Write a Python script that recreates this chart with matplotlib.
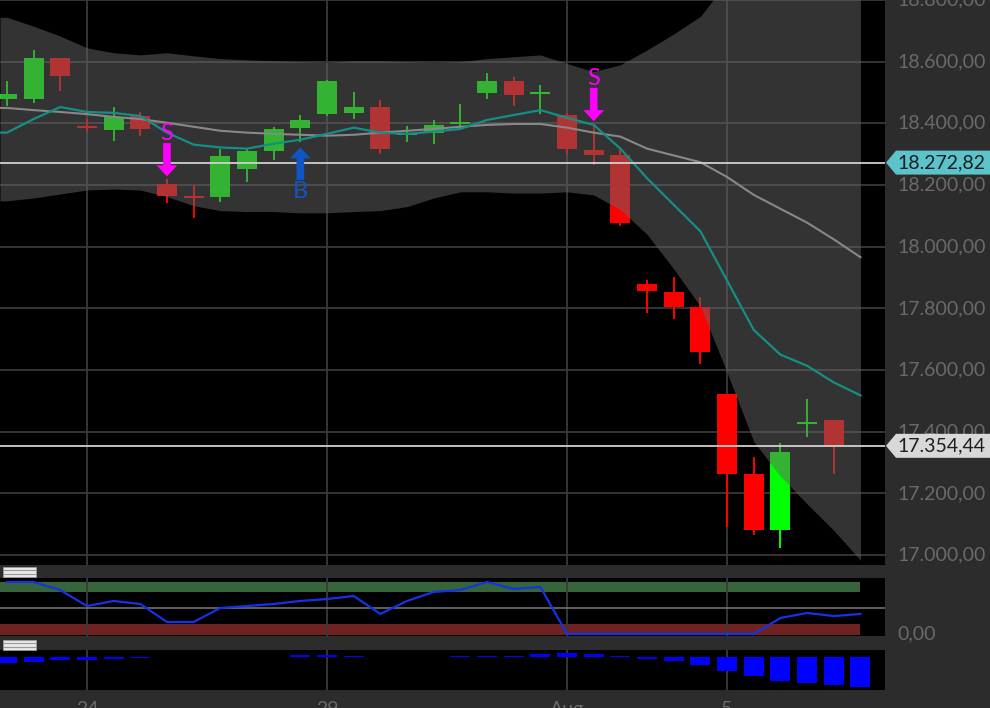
import matplotlib.pyplot as plt
import matplotlib.transforms as mtrans
from matplotlib.patches import Polygon, Rectangle
import numpy as np

plt.rcParams['font.family'] = ['Lato', 'DejaVu Sans']

# candles (8h bars), index 0..32
opens  = [18478, 18478, 18613, 18390, 18379, 18424, 18203, 18165, 18162, 18251, 18309,
          18386, 18430, 18434, 18453, 18363, 18370, 18398, 18498, 18536, 18494, 18427,
          18315, 18296, 17880, 17854, 17803, 17522, 17262, 17080, 17426, 17438, 17358]
highs  = [18536, 18638, 18613, 18414, 18453, 18437, 18219, 18200, 18318, 18318, 18389,
          18427, 18542, 18501, 18475, 18392, 18411, 18462, 18562, 18549, 18526, 18434,
          18398, 18318, 17893, 17902, 17838, 17522, 17317, 17365, 17506, 17438, 17358]
lows   = [18456, 18466, 18504, 18373, 18344, 18360, 18142, 18094, 18146, 18210, 18280,
          18338, 18424, 18414, 18302, 18341, 18334, 18379, 18478, 18456, 18430, 18296,
          18264, 18066, 17784, 17765, 17621, 17090, 17064, 17022, 17384, 17262, 17352]
closes = [18494, 18613, 18552, 18385, 18421, 18382, 18165, 18158, 18293, 18309, 18382,
          18411, 18536, 18453, 18318, 18370, 18395, 18405, 18536, 18491, 18501, 18318,
          18296, 18078, 17858, 17806, 17659, 17262, 17083, 17336, 17432, 17355, 17354.44]

# bollinger band + moving averages
bb_upper = [18744, 18715, 18683, 18645, 18629, 18622, 18629, 18619, 18610, 18606, 18603,
            18600, 18597, 18603, 18603, 18600, 18597, 18600, 18610, 18616, 18622, 18594,
            18568, 18590, 18638, 18690, 18747, 18859, 18968, 18990, 18990, 18968, 18949]
bb_lower = [18149, 18158, 18171, 18184, 18187, 18184, 18162, 18133, 18117, 18114, 18114,
            18110, 18110, 18114, 18117, 18130, 18158, 18178, 18178, 18174, 18174, 18178,
            18168, 18120, 18040, 17928, 17806, 17592, 17368, 17256, 17166, 17080, 16984]
bb_mid   = [18450, 18443, 18437, 18430, 18421, 18414, 18402, 18389, 18376, 18370, 18366,
            18363, 18360, 18363, 18370, 18376, 18382, 18389, 18395, 18398, 18398, 18386,
            18370, 18357, 18318, 18296, 18274, 18226, 18168, 18123, 18078, 18024, 17966]
sma_fast = [18370, 18414, 18453, 18437, 18434, 18424, 18370, 18331, 18322, 18318, 18334,
            18347, 18366, 18386, 18370, 18366, 18373, 18382, 18411, 18427, 18443, 18418,
            18395, 18318, 18222, 18136, 18050, 17890, 17730, 17650, 17614, 17560, 17518]

# oscillator panel (0..100) and histogram panel
stoch = [100, 100, 84.6, 53.8, 63.5, 57.7, 23.1, 23.1, 50, 53.8, 57.7, 63.5, 67.3, 73.1,
         38.5, 63.5, 80.8, 84.6, 100, 86.5, 90.4, 0, 0, 0, 0, 0, 0, 0, 0, 30.8, 40.4,
         34.6, 38.5]
hist = [-24, -20, -12, -10, -6, -2.4, -1.2, -0.8, 0.4, 0.8, 1.2, 8, 8, 5, 2, 1.2, 1.6,
        2.4, 6, 5, 11, 15, 12, 5, -7, -15, -32, -56, -76, -96, -104, -112, -120]

signals = [(6, 'S'), (11, 'B'), (22, 'S')]
date_pos = [3, 12, 21, 27]
date_labels = ['24', '29', 'Aug', '5']
price_ticks = list(range(17000, 18801, 200))
tag_prices = [18272.82, 17354.44]
tag_colors = ['#5cc3ca', '#d8d8d8']

W, H = 990, 708
BG = '#2c2c2c'
LBL = '#6a6a6a'
GRID = '#393939'


def de(v):
    return f"{v:,.2f}".replace(',', 'X').replace('.', ',').replace('X', '.')


fig = plt.figure(figsize=(W / 100, H / 100), dpi=100, facecolor=BG)
ax = fig.add_axes([0, 1 - 565 / H, 885 / W, 565 / H])
ax1 = fig.add_axes([0, 1 - 636 / H, 885 / W, 58 / H])
ax2 = fig.add_axes([0, 1 - 690 / H, 885 / W, 40 / H])

x = np.arange(len(opens))
xlim = (-0.26, 32.92)
# lines/band continue to the left edge
xe = np.r_[xlim[0], x]


def ext(v):
    return np.r_[v[0], v]


for a in (ax, ax1, ax2):
    a.set_facecolor('black')
    a.set_xlim(*xlim)
    for s in a.spines.values():
        s.set_visible(False)
    a.set_xticks(date_pos)
    a.tick_params(length=0, labelleft=False, labelbottom=False)
    a.grid(True, axis='x', color=GRID, lw=1.3, alpha=1)
    a.set_axisbelow(True)

# main panel
ax.set_ylim(16968, 18776)
ax.set_yticks(price_ticks)
ax.grid(True, axis='y', color=GRID, lw=1.3, alpha=1)

o = np.array(opens); c = np.array(closes)
up = c >= o
cols = np.where(up, '#00ff00', '#ff0000')
ax.vlines(x, lows, highs, colors=cols, lw=1.4, zorder=2)
body = np.where(np.abs(c - o) < 4, 4 * np.sign(c - o + 1e-9), c - o)
ax.bar(x, body, bottom=o, width=0.75, color=cols, lw=0, zorder=2)

ax.fill_between(xe, ext(bb_lower), ext(bb_upper), color='#666666', alpha=0.5, lw=0, zorder=3)
ax.plot(xe, ext(bb_mid), color='#888888', lw=1.5, zorder=4)
ax.plot(xe, ext(sma_fast), color='#158e85', lw=1.6, zorder=4)

for p in tag_prices:
    ax.axhline(p, color='#d0d0d0', lw=1.3, zorder=5)

arrow = 'simple,head_length=0.8,head_width=1.5,tail_width=0.55'
for i, kind in signals:
    if kind == 'S':
        ax.annotate('', xy=(i, highs[i]), xytext=(0, 26), textcoords='offset points',
                    arrowprops=dict(arrowstyle=arrow, mutation_scale=10, color='#ff00ff',
                                    lw=0, shrinkA=0, shrinkB=2), zorder=6)
        ax.annotate('S', xy=(i, highs[i]), xytext=(0, 33), textcoords='offset points',
                    ha='center', va='center', color='#ff00ff', fontsize=17, zorder=6)
    else:
        ax.annotate('', xy=(i, lows[i]), xytext=(0, -27), textcoords='offset points',
                    arrowprops=dict(arrowstyle=arrow, mutation_scale=10, color='#0f56c4',
                                    lw=0, shrinkA=0, shrinkB=3.5), zorder=6)
        ax.annotate('B', xy=(i, lows[i]), xytext=(0, -35), textcoords='offset points',
                    ha='center', va='center', color='#0f56c4', fontsize=17, zorder=6)

# right-side price labels
tr = mtrans.blended_transform_factory(fig.transFigure, ax.transData)
for p in price_ticks:
    ax.text(897 / W, p, de(p), transform=tr, ha='left', va='center', color=LBL,
            fontsize=14, clip_on=False)

fig.canvas.draw()
for p, col in zip(tag_prices, tag_colors):
    yd = ax.transData.transform((0, p))[1]
    xs = [886, 896, W, W, 896]
    ys = [yd, yd + 12, yd + 12, yd - 12, yd - 12]
    fig.patches.append(Polygon(np.column_stack([xs, ys]), closed=True, facecolor=col,
                               edgecolor='none', transform=None, zorder=10))
    fig.text(897 / W, yd / H, de(p), ha='left', va='center', color='#1b1f22',
             fontsize=14, zorder=11)

# oscillator panel
ax1.set_ylim(-3.85, 107.7)
ax1.fill_between([xlim[0], 32], 80, 100, color='#37643a', lw=0, zorder=0.2)
ax1.fill_between([xlim[0], 32], -2, 20, color='#6e2222', lw=0, zorder=0.2)
ax1.axhline(50, color='#707070', lw=1.2, zorder=1)
ax1.plot(x, stoch, color='#1432e6', lw=1.6, zorder=3)
tr1 = mtrans.blended_transform_factory(fig.transFigure, ax1.transData)
ax1.text(897 / W, 0, '0,00', transform=tr1, ha='left', va='center', color=LBL,
         fontsize=14, clip_on=False)

# histogram panel
ax2.set_ylim(-132, 28)
ax2.bar(x, hist, width=0.75, color='#0000ff', lw=0, zorder=2)

# panel handles
for yt in (567, 640):
    fig.patches.append(Rectangle((3 / W, 1 - (yt + 10) / H), 33 / W, 10 / H,
                                 transform=fig.transFigure, facecolor='#e8e8e8',
                                 edgecolor='#9a9a9a', lw=0.6))
    for k in (3.3, 6.6):
        fig.lines.append(plt.Line2D([4 / W, 35 / W], [1 - (yt + k) / H] * 2,
                                    transform=fig.transFigure, color='#9a9a9a', lw=0.8))

# date labels (cut at bottom)
for pos, lab in zip(date_pos, date_labels):
    xd = ax.transData.transform((pos, 0))[0]
    fig.text(xd / W, 1 - 701 / H, lab, ha='center', va='top', color=LBL, fontsize=14)

fig.savefig('out.png', dpi=100, facecolor=BG)
